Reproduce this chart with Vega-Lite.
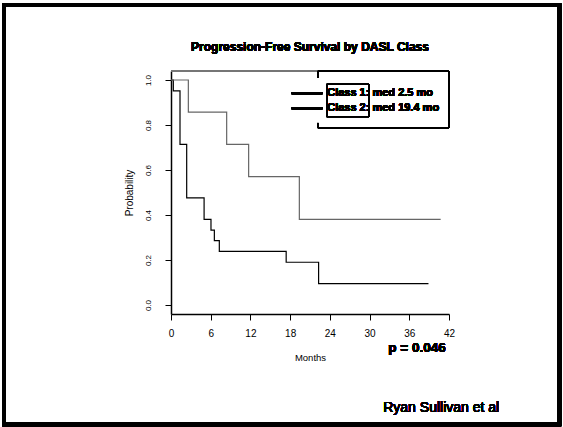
{
  "$schema": "https://vega.github.io/schema/vega-lite/v6.json",
  "width": 278,
  "height": 243,
  "autosize": {"type": "none"},
  "padding": {"left": 171, "top": 71, "right": 114, "bottom": 113},
  "background": "white",
  "config": {
    "view": {"stroke": null},
    "font": "Liberation Sans",
    "axis": {"labelFont": "Liberation Sans", "titleFont": "Liberation Sans", "labelColor": "#000", "titleColor": "#000", "tickColor": "#000", "domainColor": "#000", "grid": false, "labelOverlap": false}
  },
  "data": {"values": [
    {"month": 0, "prob": 1.0, "class": "Class 1"},
    {"month": 0.35, "prob": 0.952, "class": "Class 1"},
    {"month": 1.36, "prob": 0.714, "class": "Class 1"},
    {"month": 2.37, "prob": 0.476, "class": "Class 1"},
    {"month": 5.0, "prob": 0.381, "class": "Class 1"},
    {"month": 6.04, "prob": 0.333, "class": "Class 1"},
    {"month": 6.55, "prob": 0.286, "class": "Class 1"},
    {"month": 7.3, "prob": 0.238, "class": "Class 1"},
    {"month": 17.4, "prob": 0.19, "class": "Class 1"},
    {"month": 22.3, "prob": 0.095, "class": "Class 1"},
    {"month": 38.9, "prob": 0.095, "class": "Class 1"},
    {"month": 0, "prob": 1.0, "class": "Class 2"},
    {"month": 2.62, "prob": 0.857, "class": "Class 2"},
    {"month": 8.41, "prob": 0.714, "class": "Class 2"},
    {"month": 11.73, "prob": 0.571, "class": "Class 2"},
    {"month": 19.39, "prob": 0.381, "class": "Class 2"},
    {"month": 40.74, "prob": 0.381, "class": "Class 2"}
  ]},
  "layer": [
    {
      "mark": {"type": "line", "interpolate": "step-after", "strokeWidth": 1.2},
      "encoding": {
        "x": {"field": "month", "type": "quantitative", "scale": {"domain": [0, 42], "nice": false, "zero": false},
              "axis": {"values": [0, 6, 12, 18, 24, 30, 36, 42], "tickCount": 20, "labelOverlap": false, "title": "Months", "titleFontSize": 9.5, "titleFontWeight": "normal", "titlePadding": 14, "labelFontSize": 10, "labelPadding": 8, "tickSize": 6, "domainWidth": 1.5, "tickWidth": 1, "labelFlush": false}},
        "y": {"field": "prob", "type": "quantitative", "scale": {"domain": [-0.04, 1.04], "nice": false, "zero": false},
              "axis": {"values": [0, 0.2, 0.4, 0.6, 0.8, 1.0], "tickCount": 20, "labelOverlap": false, "format": ".1f", "title": "Probability", "titleFontSize": 10, "titleFontWeight": "normal", "titlePadding": 10, "labelFontSize": 8, "labelAngle": 270, "labelPadding": 13, "tickSize": 6, "domainWidth": 1.5, "tickWidth": 1, "labelFlush": false}},
        "color": {"field": "class", "type": "nominal", "scale": {"domain": ["Class 1", "Class 2"], "range": ["#000000", "#666666"]}, "legend": null}
      }
    },
    {
      "mark": {"type": "rect", "fill": null, "stroke": "#000", "strokeWidth": 3.5},
      "encoding": {"x": {"datum": -25.23}, "x2": {"datum": 58.69}, "y": {"datum": 1.333}, "y2": {"datum": -0.531}}
    },
    {
      "mark": {"type": "rule", "stroke": "#777", "strokeWidth": 1},
      "encoding": {"x": {"datum": 0}, "x2": {"datum": 22.2}, "y": {"datum": 1.04}}
    },
    {
      "mark": {"type": "rule", "stroke": "#000", "strokeWidth": 1},
      "encoding": {"x": {"datum": 22.2}, "x2": {"datum": 42}, "y": {"datum": 1.04}}
    },
    {
      "mark": {"type": "rule", "stroke": "#000", "strokeWidth": 1},
      "encoding": {"x": {"datum": 42}, "y": {"datum": 1.04}, "y2": {"datum": 0.7867}}
    },
    {
      "mark": {"type": "rule", "stroke": "#000", "strokeWidth": 1},
      "encoding": {"x": {"datum": 22.2}, "x2": {"datum": 42}, "y": {"datum": 0.7867}}
    },
    {
      "mark": {"type": "rule", "stroke": "#000", "strokeWidth": 1},
      "encoding": {"x": {"datum": 22.2}, "y": {"datum": 1.04}, "y2": {"datum": 1.009}}
    },
    {
      "mark": {"type": "rule", "stroke": "#000", "strokeWidth": 1},
      "encoding": {"x": {"datum": 22.2}, "y": {"datum": 0.809}, "y2": {"datum": 0.7867}}
    },
    {
      "mark": {"type": "rule", "stroke": "#000", "strokeWidth": 2},
      "encoding": {"x": {"datum": 18.24}, "x2": {"datum": 22.86}, "y": {"datum": 0.941}}
    },
    {
      "mark": {"type": "rule", "stroke": "#000", "strokeWidth": 2},
      "encoding": {"x": {"datum": 18.24}, "x2": {"datum": 22.86}, "y": {"datum": 0.874}}
    },
    {
      "mark": {"type": "rect", "fill": null, "stroke": "#000", "strokeWidth": 1},
      "encoding": {"x": {"datum": 23.53}, "x2": {"datum": 29.9}, "y": {"datum": 0.981}, "y2": {"datum": 0.837}}
    },
    {
      "mark": {"type": "text", "text": "Progression-Free Survival by DASL Class", "align": "center", "baseline": "middle", "font": "Liberation Sans", "fontSize": 12, "fontWeight": "bold", "fill": "#000"},
      "encoding": {"x": {"datum": 21}, "y": {"datum": 1.145}}
    },
    {
      "mark": {"type": "text", "text": "Class 1: med 2.5 mo", "align": "left", "baseline": "middle", "font": "Liberation Sans", "fontSize": 11, "fontWeight": "bold", "fill": "#000"},
      "encoding": {"x": {"datum": 23.6}, "y": {"datum": 0.941}}
    },
    {
      "mark": {"type": "text", "text": "Class 2: med 19.4 mo", "align": "left", "baseline": "middle", "font": "Liberation Sans", "fontSize": 11, "fontWeight": "bold", "fill": "#000"},
      "encoding": {"x": {"datum": 23.6}, "y": {"datum": 0.874}}
    },
    {
      "mark": {"type": "text", "text": "p = 0.046", "align": "center", "baseline": "middle", "font": "Liberation Sans", "fontSize": 13.5, "fontWeight": "bold", "fill": "#000"},
      "encoding": {"x": {"datum": 37.17}, "y": {"datum": -0.192}}
    },
    {
      "mark": {"type": "text", "text": "Ryan Sullivan et al", "align": "center", "baseline": "middle", "font": "Liberation Sans", "fontSize": 14, "fill": "#000"},
      "encoding": {"x": {"datum": 40.82}, "y": {"datum": -0.458}}
    }
  ]
}
